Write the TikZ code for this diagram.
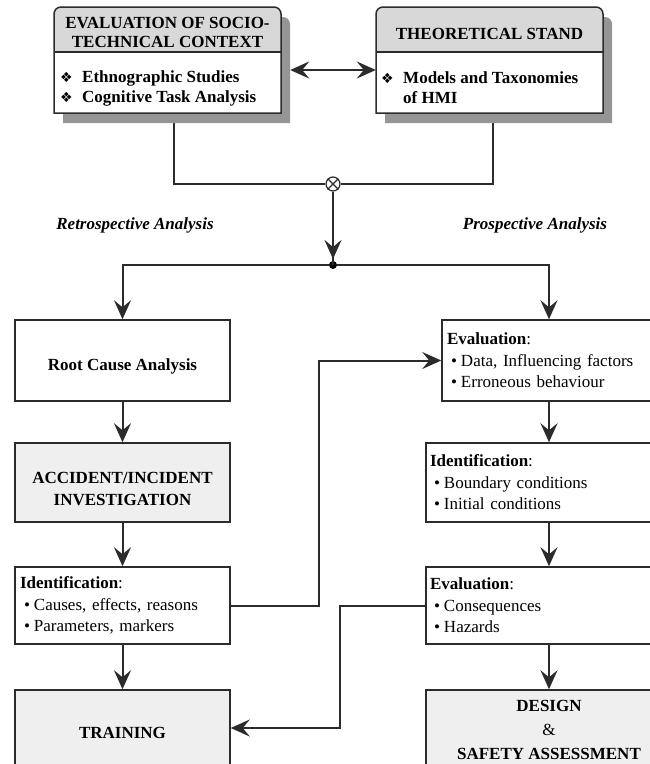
\documentclass[tikz,border=0pt]{standalone}
\usepackage{fontspec}
\setmainfont{Liberation Serif}
\newfontfamily\symfont{DejaVu Sans}
\usetikzlibrary{arrows.meta,calc}
\definecolor{ln}{HTML}{2B2B2B}
\definecolor{hdrgray}{HTML}{D8D8D8}
\definecolor{boxgray}{HTML}{EFEFEF}
\definecolor{shadowgray}{HTML}{959595}
\newcommand\dmbul{\makebox[22pt][l]{\symfont\fontsize{14}{14}\selectfont ❖}}
\newcommand\itm{\hspace*{4pt}\makebox[10pt][l]{•}}
\begin{document}
\begin{tikzpicture}[x=1pt,y=-1pt,
  conn/.style={draw=ln, line width=2pt},
  arr/.style={conn, -{Stealth[length=19pt,width=17pt,inset=7pt]}},
  dblarr/.style={conn, {Stealth[length=19pt,width=17pt,inset=7pt]}-{Stealth[length=19pt,width=17pt,inset=7pt]}},
  frame/.style={draw=ln, line width=1.5pt},
  plainbox/.style={frame, fill=white, align=center, inner sep=0pt, font=\bfseries\fontsize{17}{21.5}\selectfont},
  graybox/.style={plainbox, fill=boxgray},
  listbox/.style={frame, fill=white, align=left, inner xsep=5pt, inner ysep=0pt, font=\fontsize{17}{21.5}\selectfont},
  ghost/.style={inner sep=0pt, minimum width=227pt, minimum height=106pt},
  hdrtext/.style={align=center, inner sep=0pt, font=\bfseries\fontsize{17}{18.5}\selectfont},
  blist/.style={align=left, inner sep=0pt, font=\bfseries\fontsize{17}{20}\selectfont},
  lbl/.style={inner sep=0pt, font=\bfseries\itshape\fontsize{17}{20}\selectfont},
  ]
\useasboundingbox (0,0) rectangle (650,764);

% invisible frames of the top boxes
\node[ghost] (ctx) at (167.5,60) {};
\node[ghost] (thy) at (489.5,60) {};
\node[draw=ln, line width=1.2pt, circle, fill=white, minimum size=14pt, inner sep=0pt] (ox) at (333,184) {};
\node[circle, fill=black, minimum size=8pt, inner sep=0pt] (dot) at (333,265) {};

% connectors under the top boxes
\draw[conn] ([xshift=6.5pt]ctx.south) |- (ox.west);
\draw[conn] ([xshift=3.5pt]thy.south) |- (ox.east);
\draw[conn] (ox.south) -- (dot.center);
\draw[arr] (ox.south) -- ([yshift=6pt]dot.center);
\draw[draw=ln, line width=1.2pt] (ox.north west) -- (ox.south east) (ox.north east) -- (ox.south west);

% left top box
\fill[shadowgray] (63,123) -- (63,24) arc[start angle=180, end angle=90, radius=7pt] -- (283,17) arc[start angle=90, end angle=0, radius=7pt] -- (290,123) -- cycle;
\fill[white] (54,113) rectangle (281,52);
\fill[hdrgray] (54,52) -- (54,14) arc[start angle=180, end angle=90, radius=7pt] -- (274,7) arc[start angle=90, end angle=0, radius=7pt] -- (281,52) -- cycle;
\draw[frame] (54,113) -- (54,14) arc[start angle=180, end angle=90, radius=7pt] -- (274,7) arc[start angle=90, end angle=0, radius=7pt] -- (281,113) -- cycle;
\draw[frame] (54,52) -- (281,52);

% right top box
\fill[shadowgray] (385,123) -- (385,24) arc[start angle=180, end angle=90, radius=7pt] -- (605,17) arc[start angle=90, end angle=0, radius=7pt] -- (612,123) -- cycle;
\fill[white] (376,113) rectangle (603,52);
\fill[hdrgray] (376,52) -- (376,14) arc[start angle=180, end angle=90, radius=7pt] -- (596,7) arc[start angle=90, end angle=0, radius=7pt] -- (603,52) -- cycle;
\draw[frame] (376,113) -- (376,14) arc[start angle=180, end angle=90, radius=7pt] -- (596,7) arc[start angle=90, end angle=0, radius=7pt] -- (603,113) -- cycle;
\draw[frame] (376,52) -- (603,52);

\node[hdrtext] (ctxh) at (167.5,32.5) {EVALUATION OF SOCIO-\\TECHNICAL CONTEXT};
\node[hdrtext] (thyh) at (489.5,33.5) {THEORETICAL STAND};
\node[blist, anchor=west] (ctxb) at (60,88) {\dmbul Ethnographic Studies\\\dmbul Cognitive Task Analysis};
\node[blist, anchor=west] (thyb) at (381,88) {\dmbul Models and Taxonomies\\\hspace*{22pt}of HMI};

\draw[dblarr] ([shift={(9pt,-10pt)}]ctx.east) -- ([yshift=-10pt]thy.west);

% labels
\node[lbl] (retro) at (135,225) {Retrospective Analysis};
\node[lbl] (prosp) at (535,225) {Prospective Analysis};

% boxes
\node[plainbox, minimum width=215pt, minimum height=81pt, text height=20pt, text depth=0pt] (rca) at (122.5,360.5) {Root Cause Analysis};
\node[listbox, text width=204pt, minimum height=81pt] (ev1) at (549,360.5) {\textbf{Evaluation}:\\\itm Data, Influencing factors\\\itm Erroneous behaviour};
\node[graybox, minimum width=215pt, minimum height=79pt] (acc) at (122.5,482.5) {\rule{0pt}{24pt}ACCIDENT/INCIDENT\\INVESTIGATION};
\node[listbox, inner xsep=4pt, text width=238pt, minimum height=79pt] (id1) at (549,482.5) {\textbf{Identification}:\\\itm Boundary conditions\\\itm Initial conditions};
\node[listbox, text width=205pt, minimum height=77pt] (id2) at (122.5,605.5) {\textbf{Identification}:\\\itm Causes, effects, reasons\\\itm Parameters, markers};
\node[listbox, inner xsep=4pt, text width=238pt, minimum height=77pt] (ev2) at (549,605.5) {\textbf{Evaluation}:\\\itm Consequences\\\itm Hazards};
\node[graybox, minimum width=215pt, minimum height=76pt, text height=20pt, text depth=0pt] (trn) at (122.5,728) {TRAINING};
\node[graybox, minimum width=246pt, minimum height=76pt] (des) at (549,728) {\rule{0pt}{16pt}DESIGN\\[2.5pt]{\mdseries\&}\\[2.5pt]SAFETY ASSESSMENT};

% connectors
\draw[arr] (dot) -| (rca.north);
\draw[arr] (dot) -| (ev1.north);
\draw[arr] (rca.south) -- (acc.north);
\draw[arr] (acc.south) -- (id2.north);
\draw[arr] (id2.south) -- (trn.north);
\draw[arr] (ev1.south) -- (id1.north);
\draw[arr] (id1.south) -- (ev2.north);
\draw[arr] (ev2.south) -- (des.north);
\draw[arr] (id2.east) -- ++(88,0) |- (ev1.west);
\draw[arr] (ev2.west) -- ++(-85,0) |- (trn.east);
\end{tikzpicture}
\end{document}
